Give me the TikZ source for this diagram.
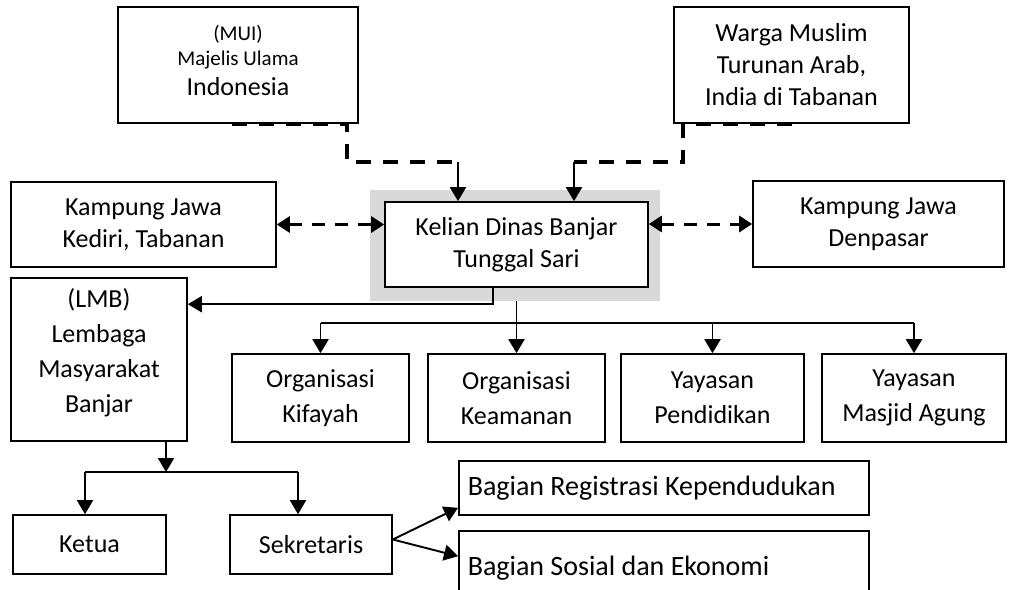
\documentclass[tikz,border=0pt]{standalone}
\usepackage{fontspec}
\setmainfont{Carlito}
\usepackage{tikz}
\definecolor{ink}{HTML}{000000}
\definecolor{frame}{HTML}{D9D9D9}
\usetikzlibrary{
  arrows.meta,
  calc
}
\newcommand{\boxfont}{\fontsize{26}{32}\selectfont}
\newcommand{\loosefont}{\fontsize{26}{35}\selectfont}
\newcommand{\smallfont}{\fontsize{21}{25}\selectfont}
\newcommand{\widefont}{\fontsize{28}{34}\selectfont}
\tikzset{
  every picture/.style={line join=miter},
  unit/.style={
    draw=ink,
    fill=white,
    line width=1.6pt,
    align=center,
    inner sep=3pt,
    font=\boxfont
  },
  unitL/.style={unit, font=\loosefont},
  wide/.style={unit, font=\widefont, align=flush left, anchor=west, text width=#1, inner xsep=9pt},
  arrow/.style={-{Triangle[length=14pt,width=16pt]}, line width=1.9pt, draw=ink},
  link/.style={line width=1.9pt, draw=ink},
  dashlink/.style={line width=3.6pt, draw=ink, dash pattern=on 15pt off 12pt},
  duallink/.style={{Triangle[length=13pt,width=16pt]}-{Triangle[length=13pt,width=16pt]}, line width=3pt, draw=ink, dash pattern=on 13pt off 10pt}
}

\begin{document}
\begin{tikzpicture}[x=1pt, y=-1pt]
  \useasboundingbox (0,0) rectangle (1009,589);
  \clip (0,0) rectangle (1009,589);

  % Top row
  \node[unit, font=\smallfont, minimum width=240pt, minimum height=116pt, text depth=10pt] (mui) at (238,65)
    {(MUI)\\ Majelis Ulama\\[5pt] \boxfont Indonesia};
  \node[unit, minimum width=235pt, minimum height=116pt] (warga) at (791.5,65)
    {Warga Muslim\\ Turunan Arab,\\ India di Tabanan};

  % Centre unit with its grey frame
  \node[fill=frame, minimum width=290pt, minimum height=111pt, inner sep=0pt] (kelianbg) at (515,245.5) {};
  \node[unit, minimum width=263pt, minimum height=85pt] (kelian) at (516.5,244.5)
    {Kelian Dinas Banjar\\ Tunggal Sari};
  \node[unit, minimum width=265pt, minimum height=85pt] (kediri) at (143.5,224.5)
    {Kampung Jawa\\ Kediri, Tabanan};
  \node[unit, minimum width=251pt, minimum height=86pt] (denpasar) at (878.5,224)
    {Kampung Jawa\\ Denpasar};

  % Organisations
  \node[unitL, minimum width=176pt, minimum height=163pt, text depth=19pt] (lmb) at (99,359.5)
    {(LMB)\\ Lembaga\\ Masyarakat\\ Banjar};
  \node[unitL, minimum width=177pt, minimum height=88pt] (kifayah) at (320.5,398)
    {Organisasi\\ Kifayah};
  \node[unitL, minimum width=177pt, minimum height=88pt] (keamanan) at (516.5,398)
    {Organisasi\\ Keamanan};
  \node[unitL, minimum width=183pt, minimum height=88pt] (pendidikan) at (712.5,398)
    {Yayasan\\ Pendidikan};
  \node[unitL, minimum width=184pt, minimum height=88pt] (masjid) at (914,398)
    {Yayasan\\ Masjid Agung};

  % Bottom row
  \node[unit, minimum width=153pt, minimum height=59pt] (ketua) at (89.5,544.5) {Ketua};
  \node[unit, minimum width=162pt, minimum height=59pt] (sekretaris) at (311,544.5) {Sekretaris};
  \node[wide=392pt, minimum height=54pt] (registrasi) at (458,488) {Bagian Registrasi Kependudukan};
  \node[wide=392pt, minimum height=74pt] (sosial) at (458,568) {Bagian Sosial dan Ekonomi};

  % Dashed links from the top
  \coordinate (muibend) at (347,162);
  \coordinate (muiin) at (458,162);
  \draw[dashlink] ([xshift=115pt]mui.south west) -- (mui.south -| muibend) -- (muibend) -- (muiin);
  \draw[arrow] (muiin) -- (muiin |- kelian.north);
  \coordinate (wargabend) at (683,162);
  \coordinate (wargain) at (574,162);
  \draw[dashlink] ([xshift=119pt]warga.south west) -- (warga.south -| wargabend) -- (wargabend) -- (wargain);
  \draw[arrow] (wargain) -- (wargain |- kelian.north);

  % Side links
  \draw[duallink] (kediri.east) -- (kediri.east -| kelian.west);
  \draw[duallink] (denpasar.west -| kelian.east) -- (denpasar.west);

  % Down from the centre
  \draw[arrow] ([xshift=-23.5pt]kelian.south) |- ([yshift=-27pt]lmb.north east);
  \coordinate (bus) at (0,323);
  \draw[link] (kifayah.north |- bus) -- (masjid.north |- bus);
  \draw[arrow] (kelianbg.south -| keamanan.north) -- (keamanan.north);
  \foreach \unitname in {kifayah,pendidikan,masjid}
    \draw[arrow] (\unitname.north |- bus) -- (\unitname.north);

  % Down from LMB
  \coordinate (lmbsplit) at (166,472);
  \coordinate (ketuain) at ([xshift=-4.5pt]ketua.north);
  \coordinate (sekin) at ([xshift=-13pt]sekretaris.north);
  \draw[arrow] (lmb.south -| lmbsplit) -- (lmbsplit);
  \draw[link] (ketuain |- lmbsplit) -- (sekin |- lmbsplit);
  \draw[arrow] (ketuain |- lmbsplit) -- (ketuain);
  \draw[arrow] (sekin |- lmbsplit) -- (sekin);

  % Sekretaris branches
  \draw[arrow] ([yshift=5pt]sekretaris.east) -- ([yshift=8pt]registrasi.south west);
  \draw[arrow] ([yshift=5pt]sekretaris.east) -- ([yshift=-26pt]sosial.north west);
\end{tikzpicture}
\end{document}
